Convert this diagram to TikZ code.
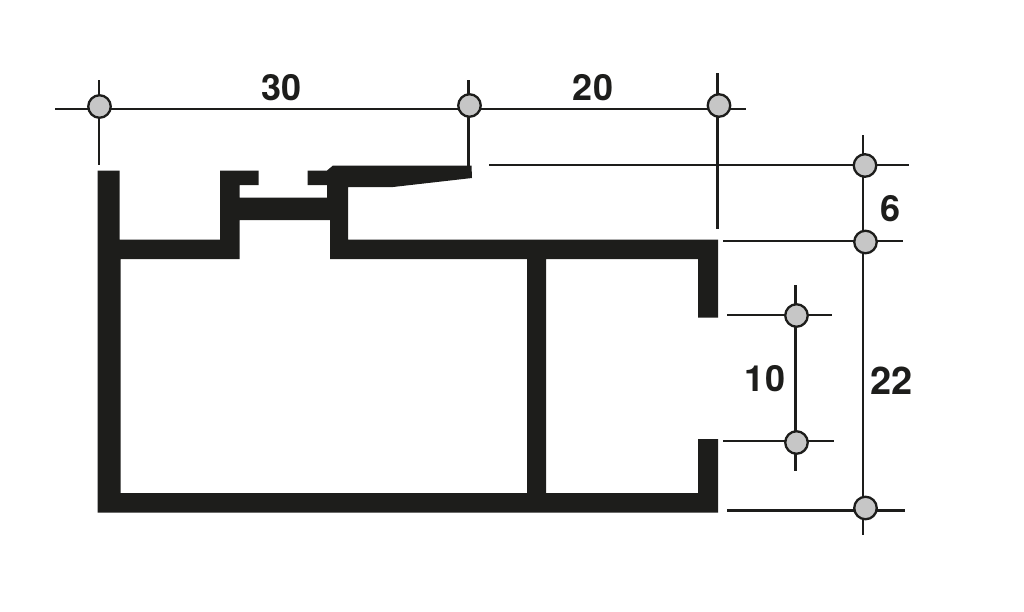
\documentclass[tikz,border=0pt]{standalone}
\usepackage{fontspec}
\setmainfont{TeX Gyre Heros}
\definecolor{ink}{HTML}{1D1D1B}
\definecolor{dot}{HTML}{C6C6C6}
\tikzset{
  dimline/.style={draw=ink,line width=2.6pt},
  pin/.style={circle,draw=ink,line width=2.3pt,fill=dot,minimum size=22.5pt,inner sep=0pt},
  dimtext/.style={text=ink,font=\fontsize{36}{36}\selectfont\bfseries,inner sep=0pt},
  profile/.style={fill=ink,even odd rule,draw=none}
}
\begin{document}
\begin{tikzpicture}[x=1pt,y=-1pt]
\useasboundingbox (0,0) rectangle (1024,611);
% aluminium profile
\path[profile]
 (97.5,170.5) -- (119.5,170.5) -- (119.5,239.5) -- (220,239.5) -- (220,170.5) -- (258.5,170.5) -- (258.5,185) -- (239.5,185) -- (239.5,197.5) -- (327,197.5) -- (327,185) -- (307.5,185) -- (307.5,170.5) -- (327,170.5) -- (333,165.5) -- (471.5,165.5) -- (472,178) -- (393,187) -- (348,187) -- (348,239.5) -- (718,239.5) -- (718,317.5) -- (698,317.5) -- (698,259) -- (546,259) -- (546,493) -- (698,493) -- (698,439) -- (718,439) -- (718,512.5) -- (97.5,512.5) -- cycle
 (120.5,259) -- (239.5,259) -- (239.5,220) -- (330,220) -- (330,259) -- (527,259) -- (527,493) -- (120.5,493) -- cycle;
% free ends of the dimension lines
\coordinate (hAl) at (55,109);   \coordinate (hAr) at (746,109);
\coordinate (v1t) at (99,80);    \coordinate (v1b) at (99,165);
\coordinate (v2t) at (468.5,80); \coordinate (v2b) at (468.5,166);
\coordinate (v3t) at (717.5,73); \coordinate (v3b) at (717.5,229);
\coordinate (hBl) at (489,165);  \coordinate (hBr) at (909,165);
\coordinate (hCl) at (723,241);  \coordinate (hCr) at (903,241);
\coordinate (hDl) at (727,315);  \coordinate (hDr) at (832,315);
\coordinate (hEl) at (723,441);  \coordinate (hEr) at (834,441);
\coordinate (hFl) at (727,510.5);\coordinate (hFr) at (905,510.5);
\coordinate (vAt) at (863,135);  \coordinate (vAb) at (863,535);
\coordinate (vBt) at (795.5,285);\coordinate (vBb) at (795.5,471);
% dimension lines
\draw[dimline] (hAl) -- (hAr);
\draw[dimline] (v1t) -- (v1b);
\draw[dimline] (v2t) -- (v2b);
\draw[dimline] (v3t) -- (v3b);
\draw[dimline] (hBl) -- (hBr);
\draw[dimline] (hCl) -- (hCr);
\draw[dimline] (hDl) -- (hDr);
\draw[dimline] (hEl) -- (hEr);
\draw[dimline] (hFl) -- (hFr);
\draw[dimline] (vAt) -- (vAb);
\draw[dimline] (vBt) -- (vBb);
% pins
\node[pin] (p1) at (99.5,106.5) {};
\node[pin] (p2) at (469.5,105.5) {};
\node[pin] (p3) at (719,105.5) {};
\node[pin] (p4) at (865,165.5) {};
\node[pin] (p5) at (865.5,242) {};
\node[pin] (p6) at (796.5,315.5) {};
\node[pin] (p7) at (796.5,442.5) {};
\node[pin] (p8) at (865.5,508) {};
% labels
\node[dimtext] (t30) at (281.5,88) {30};
\node[dimtext] (t20) at (593,88) {20};
\node[dimtext] (t6) at (890.5,209) {6};
\node[dimtext] (t10) at (765,379) {10};
\node[dimtext,font=\fontsize{38}{38}\selectfont\bfseries] (t22) at (891.5,381) {22};
\end{tikzpicture}
\end{document}
